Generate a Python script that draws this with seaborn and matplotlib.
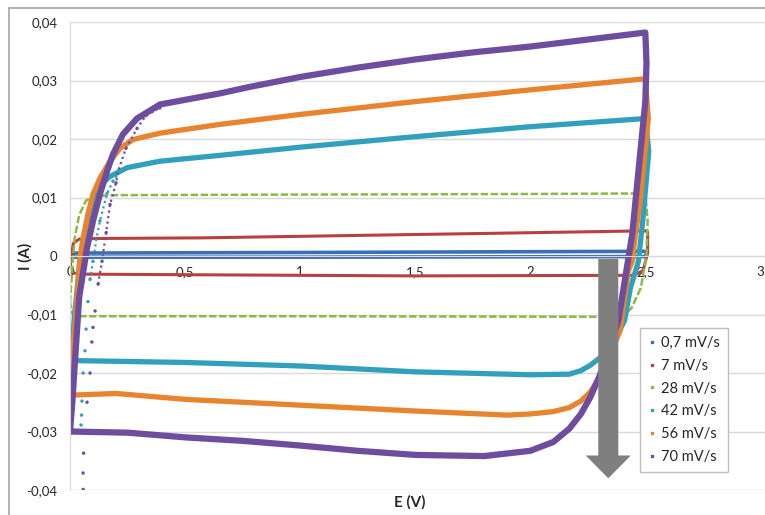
import matplotlib
matplotlib.use('Agg')
import matplotlib.pyplot as plt
from matplotlib.lines import Line2D
from matplotlib.ticker import FuncFormatter, MultipleLocator
import seaborn as sns

# scan rates and colours (Excel palette)
rates = ['0,7 mV/s', '7 mV/s', '28 mV/s', '42 mV/s', '56 mV/s', '70 mV/s']
colors = ['#3C6EB4', '#B8403E', '#8DB944', '#31A0BD', '#E8832E', '#6E4D9E']
widths = [2.6, 2.2, 1.8, 3.8, 3.8, 4.5]

# cyclic voltammograms (forward scan then reverse scan)
E_07 = [0, 0.02, 1.0, 2.5, 2.505, 2.5, 1.0, 0.02, 0]
I_07 = [-0.0002, 0.0005, 0.0006, 0.0008, 0.0005, -0.0001, -0.0002, -0.0002, -0.0002]

E_7 = [0, 0.005, 0.015, 0.04, 0.13, 0.57, 1.87, 2.5, 2.51, 2.51, 2.49, 2.45, 1.5, 0.5, 0.05, 0]
I_7 = [-0.0028, 0.0, 0.0022, 0.0029, 0.0030, 0.0031, 0.0039, 0.0043, 0.0041, 0.0005,
       -0.0025, -0.0033, -0.0034, -0.0032, -0.0031, -0.0028]

E_28 = [0, 0.01, 0.02, 0.04, 0.07, 0.12, 0.2, 1.0, 2.0, 2.5,
        2.51, 2.505, 2.48, 2.44, 2.41, 2.35, 1.0, 0.05, 0.01, 0]
I_28 = [-0.008, -0.002, 0.003, 0.007, 0.0095, 0.0103, 0.0104, 0.0105, 0.0106, 0.0107,
        0.006, 0.0, -0.0055, -0.0089, -0.0101, -0.0104, -0.0103, -0.0103, -0.0098, -0.008]

E_42 = [0.0, 0.005, 0.02, 0.04, 0.07, 0.10, 0.117, 0.174, 0.248, 0.39, 0.65, 1.0, 1.5, 2.0, 2.5,
        2.515, 2.49, 2.47, 2.435, 2.41, 2.36, 2.33, 2.296, 2.26, 2.22, 2.17, 2.0, 1.5, 1.0,
        0.5, 0.05, 0.0]
I_42 = [-0.0178, -0.0170, -0.0100, -0.0020, 0.0050, 0.0095, 0.0116, 0.0136, 0.0151, 0.0162,
        0.0172, 0.0186, 0.0204, 0.0221, 0.0235,
        0.0179, 0.0065, -0.0009, -0.0055, -0.0110, -0.0150, -0.0165, -0.0176, -0.0187, -0.0196,
        -0.0202, -0.0203, -0.0198, -0.0188, -0.0182, -0.0179, -0.0178]

E_56 = [0.0, 0.01, 0.025, 0.043, 0.057, 0.078, 0.10, 0.13, 0.174, 0.217, 0.273, 0.391, 0.652,
        1.0, 1.5, 2.0, 2.5,
        2.513, 2.478, 2.457, 2.443, 2.426, 2.39, 2.34, 2.296, 2.26, 2.22, 2.17, 2.1, 2.0, 1.9,
        1.5, 1.0, 0.5, 0.2, 0.0]
I_56 = [-0.0238, -0.018, -0.010, -0.0003, 0.0031, 0.0072, 0.0106, 0.0133, 0.0162, 0.0184,
        0.0199, 0.0210, 0.0225, 0.0242, 0.0264, 0.0284, 0.0303,
        0.0235, 0.0094, 0.0037, -0.0009, -0.0026, -0.0128, -0.0175, -0.0210, -0.0233, -0.0248,
        -0.0259, -0.0266, -0.0270, -0.0272, -0.0265, -0.0255, -0.0245, -0.0235, -0.0238]

E_70 = [0.0, 0.01, 0.025, 0.04, 0.074, 0.1, 0.13, 0.161, 0.187, 0.23, 0.291, 0.391, 0.652,
        0.78, 1.0, 1.25, 1.5, 1.75, 2.0, 2.25, 2.5,
        2.505, 2.5, 2.443, 2.383, 2.34, 2.296, 2.26, 2.22, 2.17, 2.1, 2.0, 1.8, 1.5, 1.25,
        1.0, 0.75, 0.5, 0.25, 0.0]
I_70 = [-0.030, -0.025, -0.016, -0.007, 0.0014, 0.006, 0.0106, 0.0145, 0.0174, 0.0208, 0.0235,
        0.0259, 0.0278, 0.0289, 0.0306, 0.0322, 0.0336, 0.0348, 0.0358, 0.0370, 0.0382,
        0.0330, 0.0264, 0.0037, -0.0110, -0.0165, -0.0210, -0.0242, -0.0270, -0.0295, -0.0318,
        -0.0333, -0.0342, -0.0340, -0.0333, -0.0324, -0.0316, -0.0310, -0.0302, -0.0300]

# sparse first sweeps (42 and 70 mV/s)
E_42_first = [0.048, 0.05, 0.052, 0.057, 0.065, 0.07, 0.078, 0.087, 0.1, 0.115, 0.13, 0.161, 0.187, 0.22]
I_42_first = [-0.0289, -0.0272, -0.0248, -0.0200, -0.0162, -0.0125, -0.0078, -0.004, -0.0009,
              0.003, 0.006, 0.0107, 0.0128, 0.0145]
E_70_first = [0.057, 0.057, 0.059, 0.065, 0.074, 0.087, 0.095, 0.1, 0.109, 0.122, 0.139, 0.157,
              0.174, 0.2, 0.209, 0.243, 0.291, 0.33, 0.39]
I_70_first = [-0.0399, -0.0371, -0.0337, -0.0302, -0.0250, -0.0200, -0.0147, -0.0122, -0.0094,
              -0.0048, -0.0009, 0.0040, 0.0088, 0.0125, 0.0145, 0.0184, 0.0218, 0.0240, 0.0253]

loops = [(E_07, I_07), (E_7, I_7), (E_28, I_28), (E_42, I_42), (E_56, I_56), (E_70, I_70)]

sns.set_style('white')
plt.rcParams['font.family'] = ['Lato', 'DejaVu Sans']

fig = plt.figure(figsize=(7.65, 5.15), dpi=100)
ax = fig.add_axes([70/765, 1-490/515, 1-70/765, (490-22)/515])

for (E, I), c, lw, lab in zip(loops, colors, widths, rates):
    ls = (0, (3, 1)) if lab == '28 mV/s' else '-'
    sns.lineplot(x=E, y=I, sort=False, estimator=None, color=c, linewidth=lw,
                 linestyle=ls, solid_joinstyle='round', dash_joinstyle='round',
                 ax=ax, legend=False)

for E, I, c in [(E_42_first, I_42_first, colors[3]), (E_70_first, I_70_first, colors[5])]:
    sns.scatterplot(x=E, y=I, color=c, s=6, edgecolor='none', ax=ax, legend=False)
    upper = [k for k, v in enumerate(I) if v > -0.006]
    sns.lineplot(x=[E[k] for k in upper], y=[I[k] for k in upper], sort=False, estimator=None,
                 color=c, linewidth=1.6, linestyle=(0, (1, 1.5)), ax=ax, legend=False)

# big grey arrow (increasing scan rate)
ax.arrow(2.339, -0.0005, 0, -0.0375, width=0.087, head_width=0.196, head_length=0.0039,
         length_includes_head=True, fc='#7f7f7f', ec='none', zorder=4)

ax.set_xlim(0, 3.02)
ax.set_ylim(-0.04, 0.04)
ax.xaxis.set_major_locator(MultipleLocator(0.5))
ax.yaxis.set_major_locator(MultipleLocator(0.01))

def comma(v, pos):
    s = f'{round(v, 3):g}'
    if s == '-0':
        s = '0'
    return s.replace('.', ',')

ax.xaxis.set_major_formatter(FuncFormatter(comma))
ax.yaxis.set_major_formatter(FuncFormatter(comma))
ax.yaxis.grid(True, color='#d9d9d9', lw=1)
ax.set_axisbelow(True)
for s in ['top', 'right']:
    ax.spines[s].set_visible(False)
ax.spines['left'].set_color('#d9d9d9')
ax.spines['bottom'].set_position(('data', 0))
ax.spines['bottom'].set_color('#d9d9d9')
ax.tick_params(axis='both', length=0, labelsize=9.5, colors='#262626')
ax.tick_params(axis='x', pad=7)
ax.tick_params(axis='y', pad=9)
ax.set_xlabel('')
ax.set_ylabel('')

fig.text(410/765, 1-502/515, 'E (V)', ha='center', va='center', fontsize=11,
         fontweight='bold', color='#262626')
fig.text(25/765, 1-256/515, 'I (A)', ha='center', va='center', fontsize=11,
         fontweight='bold', rotation=90, color='#262626')

handles = [Line2D([], [], marker='s', ms=1.8, ls='none', color=c) for c in colors]
leg = ax.legend(handles, rates, loc='upper left', bbox_to_anchor=(640/765, 1-328/515),
                bbox_transform=fig.transFigure, frameon=True, fancybox=False,
                edgecolor='#bfbfbf', framealpha=1, fontsize=10.5, handlelength=0.5,
                handletextpad=0.4, labelspacing=0.6, borderpad=0.55, borderaxespad=0)
leg.get_frame().set_linewidth(1)
leg.set_zorder(6)

# chart area border
fig.add_artist(Line2D([9/765, 1], [1-8/515, 1-8/515], transform=fig.transFigure,
                      color='#a6a6a6', lw=1.2))
fig.add_artist(Line2D([9/765, 9/765], [0, 1-8/515], transform=fig.transFigure,
                      color='#a6a6a6', lw=1.2))

fig.savefig('out.png', dpi=100)
